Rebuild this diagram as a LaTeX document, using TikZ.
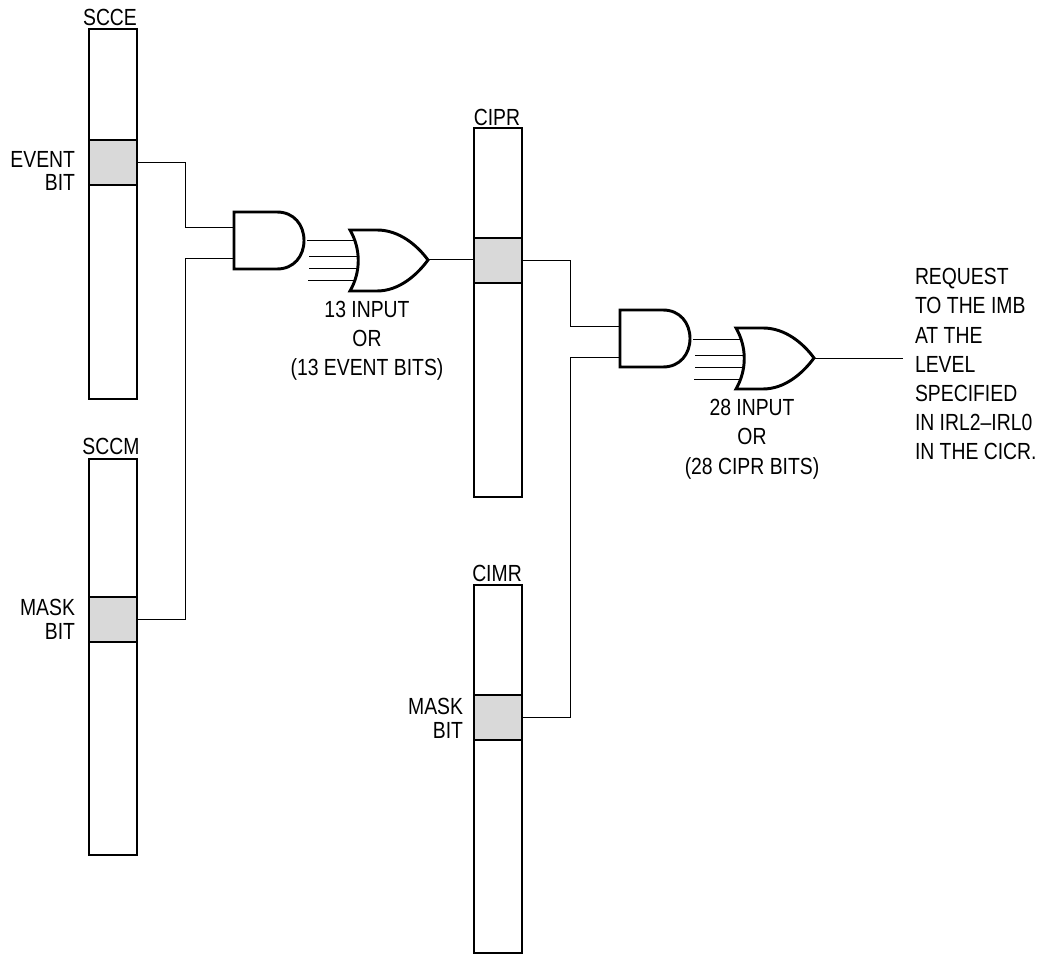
\documentclass[tikz,border=0pt]{standalone}
\usepackage{fontspec}
\setmainfont[FakeStretch=0.83]{Liberation Sans}
\tikzset{
  x=0.75pt,y=-0.75pt,
  reg/.style={draw=black,line width=2.2pt,fill=white,minimum width=36pt,inner sep=0pt,outer sep=0pt,anchor=north west},
  bitcell/.style={draw=black,line width=2.2pt,fill=black!15,minimum width=36pt,minimum height=33.75pt,inner sep=0pt,outer sep=0pt,anchor=north west},
  gateline/.style={draw=black,line width=2.2pt,fill=white,line join=miter},
  wire/.style={draw=black,line width=0.75pt},
  lbl/.style={inner sep=0pt,outer sep=0pt,font=\fontsize{17.5pt}{19pt}\selectfont},
  lblc/.style={lbl,anchor=base},
  lblr/.style={lbl,anchor=base east},
  lbll/.style={lbl,anchor=base west},
}
% #1 prefix, #2 x, #3 y of the AND gate's top-left corner
\newcommand{\gatepair}[3]{%
  \begin{scope}[shift={(#2,#3)}]
    \coordinate (#1ina) at (0,16);
    \coordinate (#1inb) at (0,47);
    \coordinate (#1out) at (194,48);
    \draw[gateline] (0,0) -- (43,0) .. controls (60,0) and (70,13) .. (70,28.5) .. controls (70,44) and (60,57) .. (43,57) -- (0,57) -- cycle;
    \coordinate (#1la) at (73,29); \coordinate (#1ra) at (120,29);
    \coordinate (#1lb) at (75,45); \coordinate (#1rb) at (123,45);
    \coordinate (#1lc) at (75,57); \coordinate (#1rc) at (123,57);
    \coordinate (#1ld) at (74,69); \coordinate (#1rd) at (121,69);
    \draw[wire] (#1la) -- (#1ra);
    \draw[wire] (#1lb) -- (#1rb);
    \draw[wire] (#1lc) -- (#1rc);
    \draw[wire] (#1ld) -- (#1rd);
    \draw[gateline,fill=none] (116,18) -- (143,18) .. controls (165,18) and (183,33) .. (194,48) .. controls (183,63) and (165,79) .. (143,79) -- (116,79) .. controls (127,60) and (127,37) .. (116,18) -- cycle;
  \end{scope}}
\begin{document}
\begin{tikzpicture}
\useasboundingbox (0,0) rectangle (1041,955);
% registers
\node[reg,minimum height=277.5pt] (scce) at (89,29) {};
\node[bitcell] (eventbit) at (89,140) {};
\node[reg,minimum height=297pt] (sccm) at (89,459) {};
\node[bitcell] (maskbita) at (89,597) {};
\node[reg,minimum height=276.75pt] (cipr) at (474,128) {};
\node[bitcell] (ciprbit) at (474,238) {};
\node[reg,minimum height=276pt] (cimr) at (474,585) {};
\node[bitcell] (maskbitb) at (474,695) {};
% gates
\gatepair{g}{234}{212}
\gatepair{h}{620}{310}
% connectors
\coordinate (outreq) at (903,358);
\coordinate (ja) at (185,162);
\coordinate (jb) at (570,260);
\draw[wire] (eventbit.east) -| (ja |- gina) -- (gina);
\draw[wire] (maskbita.east) -| (ja |- ginb) -- (ginb);
\draw[wire] (gout) -- (gout -| ciprbit.west);
\draw[wire] (ciprbit.east) -| (jb |- hina) -- (hina);
\draw[wire] (maskbitb.east) -| (jb |- hinb) -- (hinb);
\draw[wire] (hout) -- (outreq);
% labels
\node[lblc] (tscce) at (110,26) {SCCE};
\node[lblc] (tsccm) at (111,454) {SCCM};
\node[lblc] (tcipr) at (497,126) {CIPR};
\node[lblc] (tcimr) at (497,581) {CIMR};
\node[lblr] (te1) at (75,168) {EVENT};
\node[lblr] (te2) at (75,191) {BIT};
\node[lblr] (tm1) at (75,615) {MASK};
\node[lblr] (tm2) at (75,639) {BIT};
\node[lblr] (tn1) at (463,714) {MASK};
\node[lblr] (tn2) at (463,738) {BIT};
\node[lblc] (ta1) at (367,317) {13 INPUT};
\node[lblc] (ta2) at (367,346) {OR};
\node[lblc] (ta3) at (367,375) {(13 EVENT BITS)};
\node[lblc] (tb1) at (752,415) {28 INPUT};
\node[lblc] (tb2) at (752,444) {OR};
\node[lblc] (tb3) at (752,474) {(28 CIPR BITS)};
\node[lbll] (r1) at (915,285) {REQUEST};
\node[lbll] (r2) at (915,314) {TO THE IMB};
\node[lbll] (r3) at (915,343) {AT THE};
\node[lbll] (r4) at (915,372) {LEVEL};
\node[lbll] (r5) at (915,401) {SPECIFIED};
\node[lbll] (r6) at (915,430) {IN IRL2–IRL0};
\node[lbll] (r7) at (915,459) {IN THE CICR.};
\end{tikzpicture}
\end{document}
